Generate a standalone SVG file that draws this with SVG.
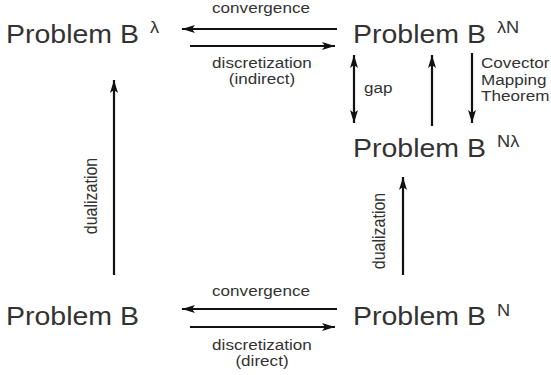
<svg xmlns="http://www.w3.org/2000/svg" width="551" height="375" viewBox="0 0 551 375">
<defs>
<marker id="ah" viewBox="0 0 13 8" refX="13" refY="4" markerWidth="13" markerHeight="8" markerUnits="userSpaceOnUse" orient="auto-start-reverse">
<path d="M0,0 L13,4 L0,8 L3,4 Z" fill="#111"/>
</marker>
<style>
.big{font-family:"Liberation Sans",Arial,sans-serif;font-size:25px;fill:#333}
.sup{font-family:"Liberation Sans",Arial,sans-serif;font-size:16px;fill:#333}
.lbl{font-family:"Liberation Sans",Arial,sans-serif;font-size:15px;fill:#333}
.vl{font-family:"Liberation Sans",Arial,sans-serif;font-size:16px;fill:#333;text-anchor:middle}
.c{text-anchor:middle}
.ln{stroke:#111;stroke-width:2.2;fill:none}
</style>
</defs>
<rect width="551" height="375" fill="#fff"/>
<g id="nodeBl">
<text class="big" transform="translate(6,43) scale(1.14,1)">Problem B</text>
<text class="sup" transform="translate(150,33) scale(1.14,1)">λ</text>
</g>
<g id="nodeBlN">
<text class="big" transform="translate(353,43) scale(1.14,1)">Problem B</text>
<text class="sup" transform="translate(497,33) scale(1.14,1)">λN</text>
</g>
<g id="nodeBNl">
<text class="big" transform="translate(353,157) scale(1.14,1)">Problem B</text>
<text class="sup" transform="translate(497,147) scale(1.14,1)">Nλ</text>
</g>
<g id="nodeB">
<text class="big" transform="translate(6,325) scale(1.14,1)">Problem B</text>
</g>
<g id="nodeBN">
<text class="big" transform="translate(353,325) scale(1.14,1)">Problem B</text>
<text class="sup" transform="translate(497,316) scale(1.14,1)">N</text>
</g>
<g id="connectors">
<line class="ln" x1="337" y1="29" x2="182" y2="29" marker-end="url(#ah)"/>
<line class="ln" x1="190" y1="46" x2="335" y2="46" marker-end="url(#ah)"/>
<line class="ln" x1="337" y1="309" x2="182" y2="309" marker-end="url(#ah)"/>
<line class="ln" x1="190" y1="327" x2="335" y2="327" marker-end="url(#ah)"/>
<line class="ln" x1="114" y1="275" x2="114" y2="80" marker-end="url(#ah)"/>
<line class="ln" x1="403" y1="275" x2="403" y2="177" marker-end="url(#ah)"/>
<line class="ln" x1="354" y1="55" x2="354" y2="123" marker-start="url(#ah)" marker-end="url(#ah)"/>
<line class="ln" x1="432" y1="126" x2="432" y2="55" marker-end="url(#ah)"/>
<line class="ln" x1="472" y1="53" x2="472" y2="123" marker-end="url(#ah)"/>
</g>
<g id="labels">
<text class="lbl c" transform="translate(261,13) scale(1.14,1)">convergence</text>
<text class="lbl c" transform="translate(262,68) scale(1.14,1)">discretization</text>
<text class="lbl c" transform="translate(262,84) scale(1.14,1)">(indirect)</text>
<text class="lbl c" transform="translate(261,296) scale(1.14,1)">convergence</text>
<text class="lbl c" transform="translate(262,350) scale(1.14,1)">discretization</text>
<text class="lbl c" transform="translate(262,366) scale(1.14,1)">(direct)</text>
<text class="lbl" transform="translate(364,93) scale(1.14,1)">gap</text>
<text class="lbl" transform="translate(481,68) scale(1.14,1)">Covector</text>
<text class="lbl" transform="translate(481,85) scale(1.14,1)">Mapping</text>
<text class="lbl" transform="translate(481,101) scale(1.14,1)">Theorem</text>
<text class="vl" transform="translate(97,196) scale(1.14,1) rotate(-90)">dualization</text>
<text class="vl" transform="translate(385,231) scale(1.14,1) rotate(-90)">dualization</text>
</g>
</svg>
